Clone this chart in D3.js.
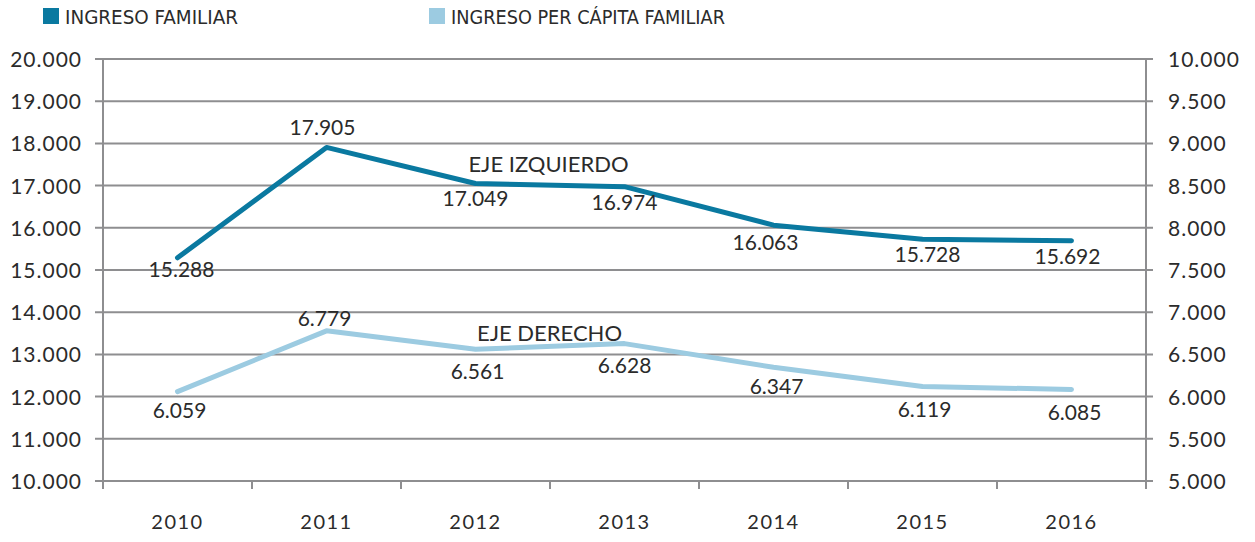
<!DOCTYPE html>
<html>
<head>
<meta charset="utf-8">
<script src="https://cdn.jsdelivr.net/npm/d3@7"></script>
<style>
  body { margin: 0; background: #fff; }
  svg text { font-family: Lato, "Open Sans", sans-serif; fill: #2b2b2b; }
  .legend text { font-family: "Liberation Sans Narrow", "DejaVu Sans Condensed", sans-serif; }
</style>
</head>
<body>
<div id="chart"></div>
<script>
// data
const years = ["2010", "2011", "2012", "2013", "2014", "2015", "2016"];
const ingresoFamiliar = [15288, 17905, 17049, 16974, 16063, 15728, 15692];
const ingresoPerCapita = [6059, 6779, 6561, 6628, 6347, 6119, 6085];
const leftTicks = [10000, 11000, 12000, 13000, 14000, 15000, 16000, 17000, 18000, 19000, 20000];
const rightTicks = [5000, 5500, 6000, 6500, 7000, 7500, 8000, 8500, 9000, 9500, 10000];

// label placement (dx, dy relative to the point)
const darkLabelOffsets = [[4, 19], [-4, -12], [0, 22], [0, 23], [-8, 25], [5, 23], [-4, 23]];
const lightLabelOffsets = [[2, 26], [-2, -5], [2, 30], [0, 29], [3, 27], [2, 30], [3, 31]];

const W = 1255, H = 542;
const margin = { top: 59, right: 109, bottom: 61, left: 103 };
const width = W - margin.left - margin.right;
const height = H - margin.top - margin.bottom;

const fmt = v => d3.format(",")(v).replace(/,/g, ".");

const svg = d3.select("#chart").append("svg")
    .attr("width", W)
    .attr("height", H);

const g = svg.append("g")
    .attr("transform", "translate(" + margin.left + "," + margin.top + ")");

const x = d3.scaleBand().domain(years).range([0, width]);
const yL = d3.scaleLinear().domain([10000, 20000]).range([height, 0]);
const yR = d3.scaleLinear().domain([5000, 10000]).range([height, 0]);

const gridColor = "#8e8e90";

// gridlines
g.append("g").selectAll("line")
    .data(leftTicks)
    .join("line")
    .attr("x1", -8).attr("x2", width + 7)
    .attr("y1", d => yL(d)).attr("y2", d => yL(d))
    .attr("stroke", gridColor)
    .attr("stroke-width", 2);

// left axis
const axL = g.append("g")
    .call(d3.axisLeft(yL).tickValues(leftTicks).tickFormat(fmt).tickSize(0).tickPadding(21));
axL.select(".domain").remove();
axL.selectAll("text").attr("font-size", 21).attr("letter-spacing", 1).attr("fill", "#2b2b2b").attr("dy", "0.36em");
g.append("line")
    .attr("x1", 0).attr("x2", 0).attr("y1", 0).attr("y2", height + 8)
    .attr("stroke", gridColor).attr("stroke-width", 2);

// right axis
const axR = g.append("g")
    .attr("transform", "translate(" + width + ",0)")
    .call(d3.axisRight(yR).tickValues(rightTicks).tickFormat(fmt).tickSize(0).tickPadding(22));
axR.select(".domain").remove();
axR.selectAll("text").attr("font-size", 21).attr("letter-spacing", 1).attr("fill", "#2b2b2b").attr("dy", "0.36em");
g.append("line")
    .attr("x1", width).attr("x2", width).attr("y1", 0).attr("y2", height + 8)
    .attr("stroke", gridColor).attr("stroke-width", 2);

// x axis
const axX = g.append("g")
    .attr("transform", "translate(0," + height + ")")
    .call(d3.axisBottom(x).tickSize(0).tickPadding(34));
axX.select(".domain").remove();
axX.selectAll("text").attr("font-size", 20).attr("letter-spacing", 1.5).attr("fill", "#2b2b2b");
g.append("g").selectAll("line")
    .data(years.slice(1))
    .join("line")
    .attr("x1", d => x(d)).attr("x2", d => x(d))
    .attr("y1", height).attr("y2", height + 8)
    .attr("stroke", gridColor).attr("stroke-width", 2);

const cx = d => x(d) + x.bandwidth() / 2;

function drawSeries(values, scale, color, offsets) {
    const pts = years.map((yr, i) => ({ year: yr, value: values[i], off: offsets[i] }));
    const line = d3.line()
        .x(d => cx(d.year))
        .y(d => scale(d.value));
    g.append("path")
        .datum(pts)
        .attr("fill", "none")
        .attr("stroke", color)
        .attr("stroke-width", 5)
        .attr("stroke-linecap", "round")
        .attr("stroke-linejoin", "round")
        .attr("d", line);
    g.append("g").selectAll("text")
        .data(pts)
        .join("text")
        .attr("x", d => cx(d.year) + d.off[0])
        .attr("y", d => scale(d.value) + d.off[1])
        .attr("text-anchor", "middle")
        .attr("font-size", 21)
        .text(d => fmt(d.value));
}

drawSeries(ingresoFamiliar, yL, "#0a79a0", darkLabelOffsets);
drawSeries(ingresoPerCapita, yR, "#9ccbe1", lightLabelOffsets);

// axis annotations
g.append("text")
    .attr("x", cx("2013") - 76).attr("y", yL(17000) - 14)
    .attr("text-anchor", "middle")
    .attr("font-size", 22)
    .text("EJE IZQUIERDO");
g.append("text")
    .attr("x", cx("2013") - 75).attr("y", yR(6500) - 13)
    .attr("text-anchor", "middle")
    .attr("font-size", 22)
    .text("EJE DERECHO");

// legend
const legendItems = [
    { label: "INGRESO FAMILIAR", color: "#0a79a0", x: 43, len: 173 },
    { label: "INGRESO PER CÁPITA FAMILIAR", color: "#9ccbe1", x: 429, len: 274 }
];
const legend = svg.append("g").attr("class", "legend");
const li = legend.selectAll("g")
    .data(legendItems)
    .join("g")
    .attr("transform", d => "translate(" + d.x + ",8)");
li.append("rect")
    .attr("width", 16).attr("height", 16)
    .attr("fill", d => d.color);
li.append("text")
    .attr("x", 22).attr("y", 16)
    .attr("font-size", 19)
    .attr("textLength", d => d.len)
    .attr("lengthAdjust", "spacingAndGlyphs")
    .text(d => d.label);
</script>
</body>
</html>
